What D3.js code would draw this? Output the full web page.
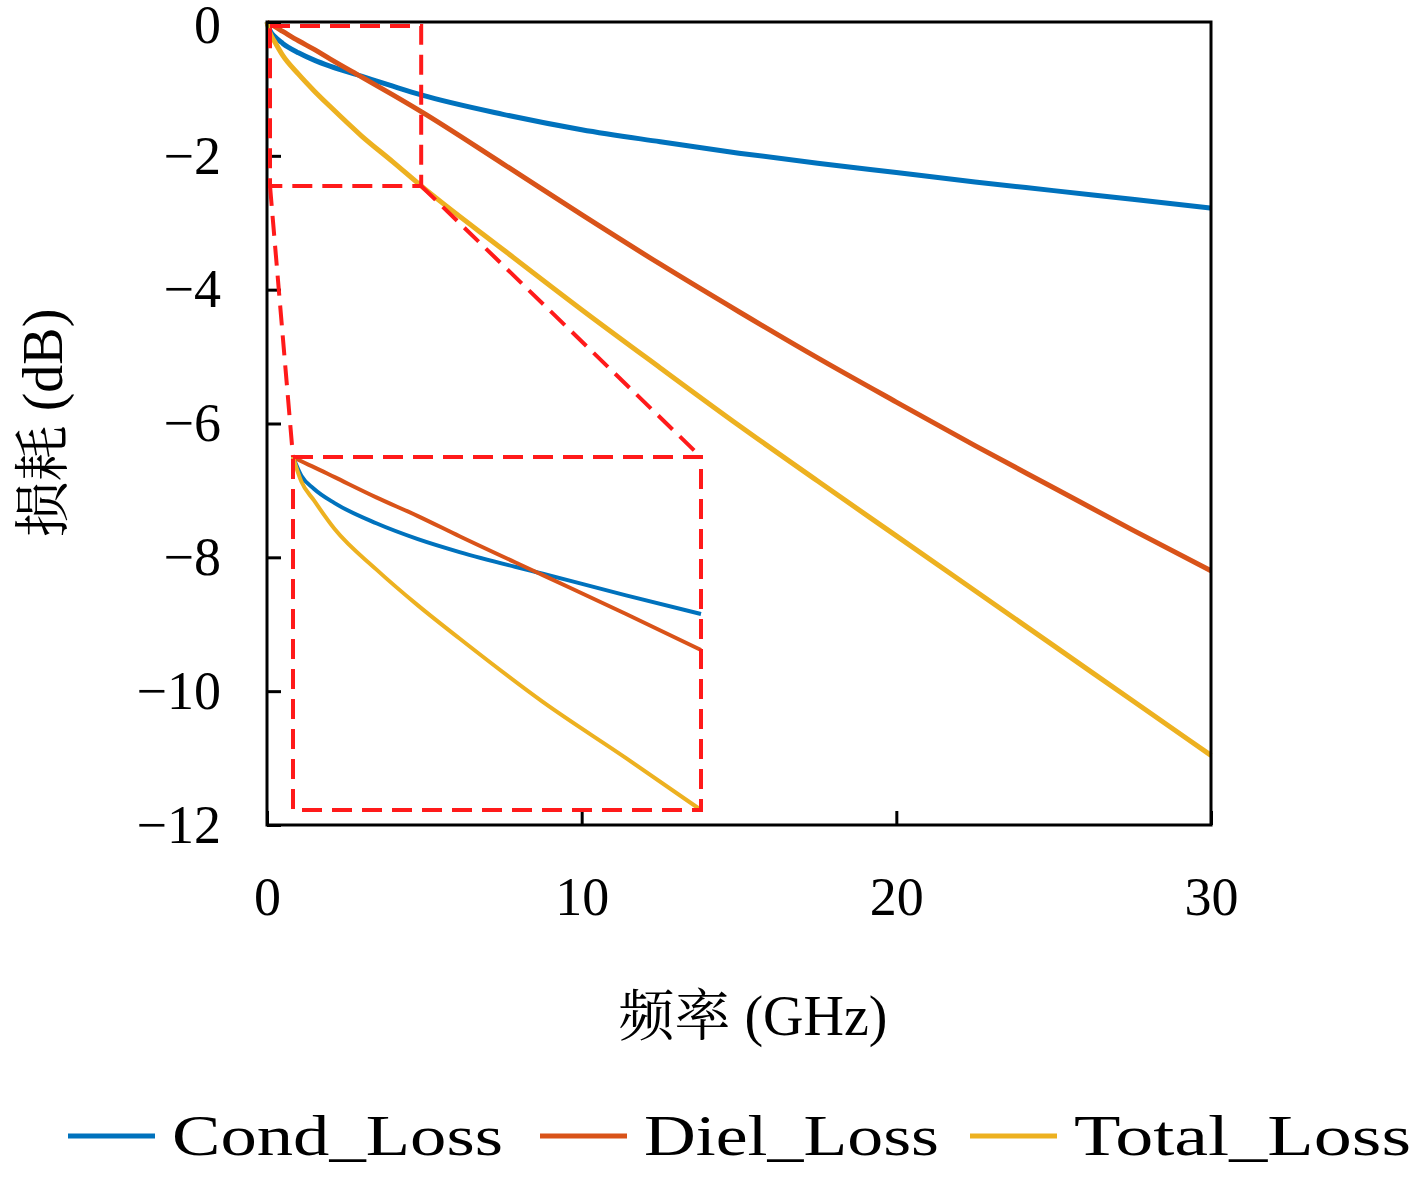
<!DOCTYPE html>
<html><head><meta charset="utf-8">
<script src="https://cdn.jsdelivr.net/npm/d3@7"></script>
<style>body{margin:0;background:#fff}</style>
</head><body>
<svg id="chart" width="1417" height="1181"></svg>
<script>
var freq  = [0,0.1,0.25,0.5,1,1.5,2,3,4,4.9,7.5,10,12.5,15,17.5,20,22.5,25,27.5,30];
var cond  = [0,-0.13,-0.22,-0.32,-0.46,-0.57,-0.66,-0.81,-0.96,-1.09,-1.38,-1.61,-1.79,-1.96,-2.11,-2.25,-2.39,-2.52,-2.65,-2.78];
var diel  = [0,-0.03,-0.07,-0.14,-0.28,-0.41,-0.55,-0.82,-1.09,-1.34,-2.12,-2.88,-3.62,-4.33,-5.02,-5.68,-6.33,-6.96,-7.59,-8.2];
var total = [0,-0.17,-0.3,-0.5,-0.78,-1.03,-1.26,-1.7,-2.09,-2.45,-3.4,-4.3,-5.17,-6.03,-6.86,-7.68,-8.5,-9.32,-10.14,-10.96];
var names = ["Cond_Loss","Diel_Loss","Total_Loss"];
var colors = ["#0072BD","#D95319","#EDB120"];
var xTicks = [0,10,20,30];
var yTicks = [0,-2,-4,-6,-8,-10,-12];
var zoomX = [0,4.9], zoomY = [-2.45,0];

var serif = "'Liberation Serif','DejaVu Serif',serif";
var cjk = "'Noto Serif CJK SC','Noto Sans CJK SC',sans-serif";
var svg = d3.select("#chart");
var x = d3.scaleLinear().domain([0,30]).range([267,1211]);
var y = d3.scaleLinear().domain([-12,0]).range([825,22]);
var series = [cond,diel,total];

var line = d3.line().x(function(d){return x(d[0]);}).y(function(d){return y(d[1]);}).curve(d3.curveMonotoneX);
series.forEach(function(s,i){
  svg.append("path").attr("d",line(freq.map(function(f,j){return [f,s[j]];})))
    .attr("fill","none").attr("stroke",colors[i]).attr("stroke-width",5);
});

// axes
svg.append("rect").attr("x",267).attr("y",22).attr("width",944).attr("height",803)
  .attr("fill","none").attr("stroke","#000").attr("stroke-width",3);
var xa = svg.append("g").attr("transform","translate(0,825)")
  .call(d3.axisBottom(x).tickValues(xTicks).tickSize(-14).tickPadding(52).tickFormat(d3.format("d")));
var ya = svg.append("g").attr("transform","translate(267,0)")
  .call(d3.axisLeft(y).tickValues(yTicks).tickSize(-14).tickPadding(46).tickFormat(function(d){return d<0?"\u2212"+(-d):d;}));
[xa,ya].forEach(function(a){
  a.select(".domain").remove();
  a.selectAll("line").attr("stroke","#000").attr("stroke-width",3);
  a.selectAll("text").attr("font-family",serif).attr("font-size",54).attr("fill","#000");
});
ya.selectAll("text").attr("dy","0.32em");
ya.selectAll(".tick").filter(function(d){return d===0;}).select("text").attr("dy","0.38em");

// zoom box and inset
var red = "#FF1A1A";
function dash(sel){return sel.attr("fill","none").attr("stroke",red).attr("stroke-width",4).attr("stroke-dasharray","20,10");}
dash(svg.append("rect").attr("x",x(zoomX[0])+3).attr("y",y(zoomY[1])+4)
  .attr("width",x(zoomX[1])-x(zoomX[0])-3).attr("height",y(zoomY[0])-y(zoomY[1])-4));
var ix = d3.scaleLinear().domain(zoomX).range([293,701]);
var iy = d3.scaleLinear().domain(zoomY).range([810,457]);
dash(svg.append("line").attr("x1",x(zoomX[0])+3).attr("y1",y(zoomY[0])).attr("x2",ix(zoomX[0])).attr("y2",iy(zoomY[1])));
dash(svg.append("line").attr("x1",x(zoomX[1])).attr("y1",y(zoomY[0])).attr("x2",ix(zoomX[1])).attr("y2",iy(zoomY[1])));
var iline = d3.line().x(function(d){return ix(d[0]);}).y(function(d){return iy(d[1]);}).curve(d3.curveMonotoneX);
series.forEach(function(s,i){
  var pts = freq.map(function(f,j){return [f,s[j]];}).filter(function(d){return d[0]<=zoomX[1];});
  svg.append("path").attr("d",iline(pts)).attr("fill","none").attr("stroke",colors[i]).attr("stroke-width",4);
});
dash(svg.append("rect").attr("x",293).attr("y",457).attr("width",408).attr("height",353));

// labels
svg.append("text").attr("x",753).attr("y",1035).attr("text-anchor","middle").attr("font-size",56)
  .html("<tspan font-family=\""+cjk+"\">频率</tspan><tspan font-family=\""+serif+"\"> (GHz)</tspan>");
svg.append("text").attr("transform","translate(62,423) rotate(-90)").attr("text-anchor","middle").attr("font-size",56)
  .html("<tspan font-family=\""+cjk+"\">损耗</tspan><tspan font-family=\""+serif+"\"> (dB)</tspan>");

// legend
var lx = [68,540,970];
var lw = [331,295,337];
names.forEach(function(n,i){
  svg.append("line").attr("x1",lx[i]).attr("x2",lx[i]+87).attr("y1",1136).attr("y2",1136)
    .attr("stroke",colors[i]).attr("stroke-width",5);
  svg.append("text").attr("x",lx[i]+104).attr("y",1155).attr("font-family",serif).attr("font-size",56)
    .attr("fill","#000").attr("textLength",lw[i]).attr("lengthAdjust","spacingAndGlyphs").text(n);
});
</script>
</body></html>
